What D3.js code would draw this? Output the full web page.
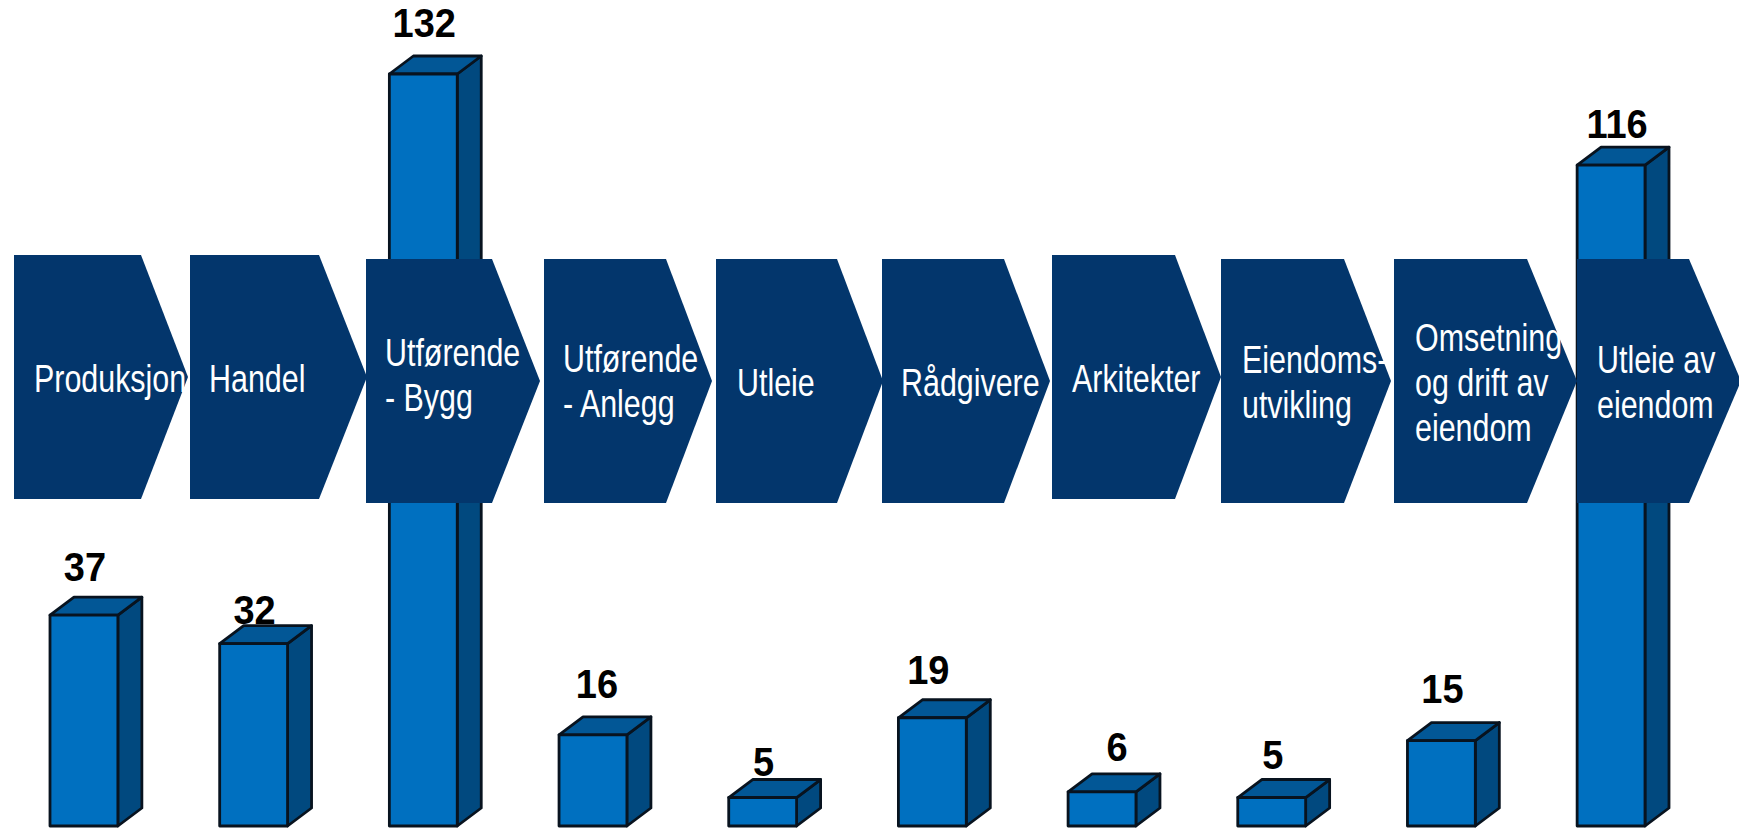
<!DOCTYPE html>
<html>
<head>
<meta charset="utf-8">
<script src="https://cdn.jsdelivr.net/npm/d3@7"></script>
<style>
    body { margin: 0; background: #fff; overflow: hidden; }
    svg { display: block; }
</style>
</head>
<body>
<script>
var categories = ["Produksjon", "Handel", "Utførende - Bygg", "Utførende - Anlegg", "Utleie",
    "Rådgivere", "Arkitekter", "Eiendomsutvikling", "Omsetning og drift av eiendom", "Utleie av eiendom"];
var values = [37, 32, 132, 16, 5, 19, 6, 5, 15, 116];
var labelLines = [["Produksjon"], ["Handel"], ["Utførende", "- Bygg"], ["Utførende", "- Anlegg"], ["Utleie"],
    ["Rådgivere"], ["Arkitekter"], ["Eiendoms-", "utvikling"], ["Omsetning", "og drift av", "eiendom"], ["Utleie av", "eiendom"]];

// layout of the arrows, they are not evenly spaced in the original
// [left, shoulder, tip, top, text x, first baseline]
var arrowLayout = [
    [14, 141, 188, 255, 34, 392],
    [190, 319, 367, 255, 209, 392],
    [366, 492, 540, 259, 385, 366],
    [544, 666, 712, 259, 563, 372],
    [716, 837, 883, 259, 737, 396],
    [882, 1004, 1050, 259, 901, 396],
    [1052, 1175, 1221, 255, 1072, 392],
    [1221, 1344, 1391, 259, 1242, 373],
    [1394, 1527, 1577, 259, 1415, 351],
    [1577, 1689, 1741, 259, 1597, 373]
];
// value label nudges: [from bar centre, above front top]
var valueNudge = [[1, 34], [1, 20], [1, 37], [4, 37], [1, 22], [-4, 34], [15, 31], [1, 29], [1, 38], [6, 27]];

var w = 1739;
var h = 829;
var arrowH = 244;
var depthX = 24;
var depthY = 18;
var lineH = 45;

var svg = d3.select("body")
    .append("svg")
    .attr("width", w)
    .attr("height", h);

var xScale = d3.scaleBand()
    .domain(categories)
    .range([50, 1645])
    .paddingInner(0.6)
    .paddingOuter(0);

var yScale = d3.scaleLinear()
    .domain([0, 132])
    .range([826, 74]);

var line = d3.line();

var bars = svg.selectAll("g.bar")
    .data(categories)
    .enter()
    .append("g")
    .attr("class", "bar")
    .attr("stroke", "#08131f")
    .attr("stroke-width", 2.8)
    .attr("stroke-linejoin", "round");

// side face
bars.append("path")
    .attr("fill", "#01497f")
    .attr("d", function(d, i) {
        var x = xScale(d) + xScale.bandwidth();
        var t = yScale(values[i]);
        var b = yScale(0);
        return line([[x, t], [x + depthX, t - depthY], [x + depthX, b - depthY], [x, b]]) + "Z";
    });

// top face
bars.append("path")
    .attr("fill", "#025796")
    .attr("d", function(d, i) {
        var x = xScale(d);
        var t = yScale(values[i]);
        var r = x + xScale.bandwidth();
        return line([[x, t], [x + depthX, t - depthY], [r + depthX, t - depthY], [r, t]]) + "Z";
    });

// front face
bars.append("rect")
    .attr("fill", "#0070c0")
    .attr("x", function(d) { return xScale(d); })
    .attr("y", function(d, i) { return yScale(values[i]); })
    .attr("width", xScale.bandwidth())
    .attr("height", function(d, i) { return yScale(0) - yScale(values[i]); });

svg.selectAll("text.value")
    .data(categories)
    .enter()
    .append("text")
    .attr("class", "value")
    .attr("transform", function(d, i) {
        var x = xScale(d) + xScale.bandwidth() / 2 + valueNudge[i][0];
        var y = yScale(values[i]) - valueNudge[i][1];
        return "translate(" + x + "," + y + ") scale(0.95,1)";
    })
    .attr("text-anchor", "middle")
    .attr("font-family", "'Liberation Sans', Arial, sans-serif")
    .attr("font-weight", "bold")
    .attr("font-size", 40)
    .attr("fill", "#000")
    .text(function(d, i) { return values[i]; });

var arrows = svg.selectAll("g.arrow")
    .data(categories)
    .enter()
    .append("g")
    .attr("class", "arrow");

arrows.append("path")
    .attr("fill", "#03366c")
    .attr("d", function(d, i) {
        var a = arrowLayout[i];
        return line([[a[0], a[3]], [a[1], a[3]], [a[2], a[3] + arrowH / 2], [a[1], a[3] + arrowH], [a[0], a[3] + arrowH]]) + "Z";
    });

// the text is squeezed sideways in the original, Arial pulled out of shape
arrows.each(function(d, i) {
    var a = arrowLayout[i];
    d3.select(this).selectAll("text")
        .data(labelLines[i])
        .enter()
        .append("text")
        .attr("transform", function(t, j) {
            return "translate(" + a[4] + "," + (a[5] + j * lineH) + ") scale(0.78,1)";
        })
        .attr("font-family", "'Liberation Sans', Arial, sans-serif")
        .attr("font-size", 39)
        .attr("fill", "#fff")
        .text(function(t) { return t; });
});
</script>
</body>
</html>
